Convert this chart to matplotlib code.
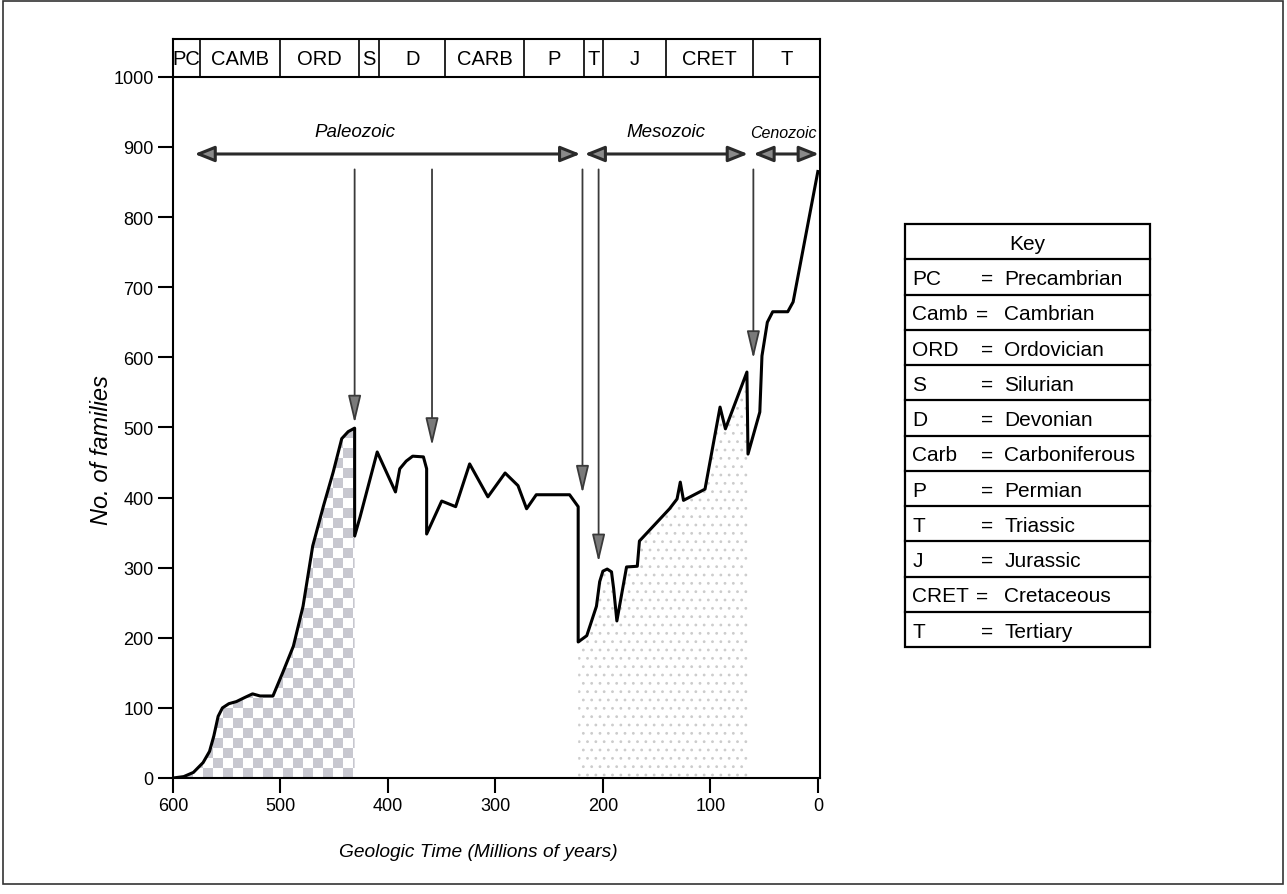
import numpy as np
import matplotlib.pyplot as plt
from matplotlib.colors import ListedColormap
from matplotlib.patches import Rectangle

plt.rcParams['font.family'] = ['Liberation Sans', 'DejaVu Sans']

# 曲线数据 (百万年前, 科的数目)
time = [600, 590, 581, 572, 566, 562, 558, 554, 548, 541, 533, 526, 519, 507,
        498, 488, 479, 470, 460, 451, 443, 437, 431, 431, 426, 410, 393, 389,
        383, 377, 367, 364, 364, 350, 337, 324, 307, 291, 279, 271, 262, 231,
        223, 223, 215, 206, 203, 200, 196, 192, 190, 187, 178, 168, 166, 138,
        131, 128, 125, 105, 91, 86, 66, 65, 54, 52, 47, 42, 28, 23, 0]
families = [0, 2, 8, 22, 38, 60, 88, 100, 106, 109, 115, 120, 117, 117,
            150, 188, 245, 331, 388, 436, 484, 494, 499, 345, 372, 465, 408, 441,
            452, 459, 458, 441, 348, 395, 387, 448, 401, 435, 417, 384, 404, 404,
            387, 194, 203, 245, 280, 295, 298, 294, 270, 224, 301, 302, 338, 384,
            398, 422, 396, 412, 529, 498, 579, 462, 522, 602, 650, 665, 665, 679, 865]

# 地质时期
periods = ['PC', 'CAMB', 'ORD', 'S', 'D', 'CARB', 'P', 'T', 'J', 'CRET', 'T']
period_edges = [600, 575, 500, 427, 408, 347, 273, 218, 200, 141, 60, -2]

# 代
eras = ['Paleozoic', 'Mesozoic', 'Cenozoic']
era_start = [580, 217, 60]
era_end = [221, 65, -1]
era_label_t = [431, 141, 32]

# 大灭绝箭头
extinction_time = [431, 359, 219, 204, 60]
extinction_tip = [506, 474, 406, 308, 598]

# 图例表
key_abbr = ['PC', 'Camb', 'ORD', 'S', 'D', 'Carb', 'P', 'T', 'J', 'CRET', 'T']
key_name = ['Precambrian', 'Cambrian', 'Ordovician', 'Silurian', 'Devonian',
            'Carboniferous', 'Permian', 'Triassic', 'Jurassic', 'Cretaceous', 'Tertiary']

W, H = 1287, 895
fig = plt.figure(figsize=(W / 100, H / 100), dpi=100)
ax = fig.add_axes([173 / W, 1 - 779 / H, (820 - 173) / W, (779 - 40) / H])

t = np.array(time)
f = np.array(families)

# 棋盘格填充 (古生代早期)
px_x = (820 - 173) / 602
px_y = (779 - 40) / 1054
poly = ax.fill_between(t, f, where=t >= 431, facecolor='none', edgecolor='none')
cx, cy = 10 / px_x, 10 / px_y
nx = int(np.ceil((600 - 431) / cx)) + 1
ny = int(np.ceil(520 / cy))
ii, jj = np.indices((ny, nx))
checker = ((ii + jj) % 2).astype(float)
img = ax.imshow(checker, cmap=ListedColormap(['white', '#c8c8d0']),
                extent=(600, 600 - nx * cx, 0, ny * cy), origin='lower',
                aspect='auto', interpolation='nearest', zorder=1)
img.set_clip_path(poly.get_paths()[0], ax.transData)

# 点状填充 (中生代)
plt.rcParams['hatch.linewidth'] = 0.8
ax.fill_between(t, f, where=(t >= 65) & (t <= 223), facecolor='none',
                edgecolor='#cccccc', hatch='..', lw=0, zorder=1)

ax.plot(t, f, color='black', lw=2.2, zorder=4)

ax.set_xlim(600, -2)
ax.set_ylim(0, 1054)
ax.set_xticks(range(600, -1, -100))
ax.set_yticks(range(0, 1001, 100))
ax.tick_params(direction='out', length=11, width=1.5, labelsize=13, pad=3)
for s in ax.spines.values():
    s.set_linewidth(1.5)

# 顶部时期栏
ax.axhline(1000, color='black', lw=1.5)
for e in period_edges[1:-1]:
    ax.plot([e, e], [1000, 1054], color='black', lw=1.2)
for name, a, b in zip(periods, period_edges[:-1], period_edges[1:]):
    ax.text((a + b) / 2, 1026, name, ha='center', va='center', fontsize=14.5)

# 代的双向箭头
for name, a, b, lt in zip(eras, era_start, era_end, era_label_t):
    ax.annotate('', xy=(b, 890), xytext=(a, 890),
                arrowprops=dict(arrowstyle='<|-|>,head_length=0.75,head_width=0.3',
                                mutation_scale=16, fc='#8a8a8a', ec='#2a2a2a',
                                lw=2.2, shrinkA=0, shrinkB=0))
    ax.text(lt, 910, name, style='italic', ha='center', va='bottom',
            fontsize=11.5 if name == 'Cenozoic' else 13.5)

# 灭绝箭头
for x, tip in zip(extinction_time, extinction_tip):
    ax.annotate('', xy=(x, tip), xytext=(x, 868),
                arrowprops=dict(arrowstyle='-|>,head_length=0.85,head_width=0.2',
                                mutation_scale=20, fc='#7a7a7a', ec='#3a3a3a',
                                lw=1.3, shrinkA=0, shrinkB=0), zorder=5)

ax.set_xlabel('Geologic Time (Millions of years)', style='italic', fontsize=13.8)
ax.set_ylabel('No. of families', style='italic', fontsize=17)
ax.xaxis.set_label_coords(0.472, -0.088)
ax.yaxis.set_label_coords(-0.092, 0.445)

# 图例表
kax = fig.add_axes([905 / W, 1 - 648 / H, 245 / W, 423 / H])
kax.set_xlim(0, 1)
kax.set_ylim(12, 0)
kax.axis('off')
kax.add_patch(Rectangle((0, 0), 1, 12, fill=False, lw=1.6, clip_on=False))
for i in range(1, 12):
    kax.plot([0, 1], [i, i], color='black', lw=1.6, clip_on=False)
kax.text(0.5, 0.55, 'Key', ha='center', va='center', fontsize=15)
for i, (a, n) in enumerate(zip(key_abbr, key_name)):
    y = i + 1.55
    kax.text(0.03, y, a, va='center', fontsize=15)
    kax.text(0.29 if a in ('Camb', 'CRET') else 0.31, y, '=', va='center', fontsize=15)
    kax.text(0.405, y, n, va='center', fontsize=15)

# 页面边框
fig.add_artist(Rectangle((3 / W, 10 / H), 1280 / W, 883 / H, transform=fig.transFigure,
                         fill=False, lw=1.2, ec='#333333'))

fig.savefig('out.png', dpi=100)
